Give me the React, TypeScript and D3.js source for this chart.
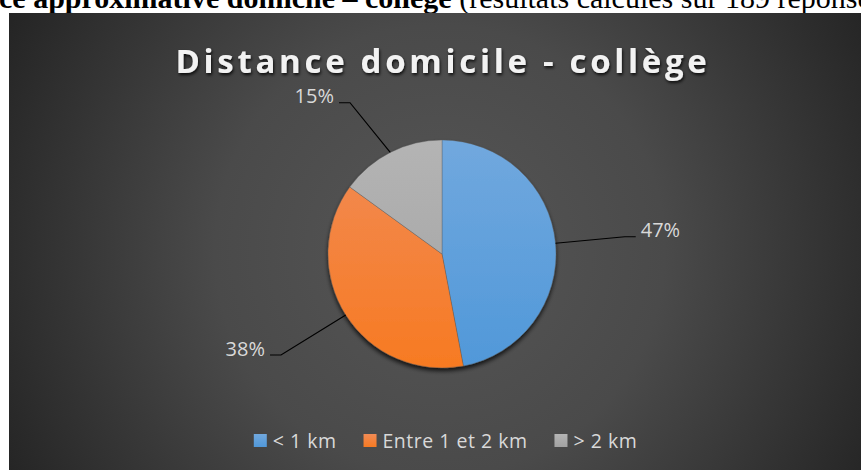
import React, { useEffect, useRef } from "react";
import * as d3 from "d3";

const categories = ["< 1 km", "Entre 1 et 2 km", "> 2 km"];
const values = [47, 38, 15];
const valueLabels = ["47%", "38%", "15%"];
const chartTitle = "Distance domicile - collège";
const headerBold = "ce approximative domicile – collège";
const headerNormal = " (résultats calculés sur 189 réponses)";

const W = 861;
const H = 470;
const colorsTop = ["#71a8de", "#f18b55", "#b4b4b4"];
const colorsBottom = ["#5098d9", "#f77a22", "#a2a2a2"];
// label layout: angle offset (deg) and radius factor for leader elbow
const labelAngleOffset = [0, 0.3, -4.3];
const labelRadiusFactor = [1.61, 1.667, 1.553];

export default function App() {
  const ref = useRef<SVGSVGElement>(null);

  useEffect(() => {
    const svg = d3.select(ref.current);
    svg.selectAll("*").remove();
    const defs = svg.append("defs");

    const bg = defs
      .append("radialGradient")
      .attr("id", "bgGrad")
      .attr("gradientUnits", "userSpaceOnUse")
      .attr("cx", 440)
      .attr("cy", 250)
      .attr("r", 500);
    bg.append("stop").attr("offset", 0).attr("stop-color", "#565656");
    bg.append("stop").attr("offset", 0.45).attr("stop-color", "#4a4a4a");
    bg.append("stop").attr("offset", 1).attr("stop-color", "#232323");

    colorsTop.forEach((c, i) => {
      const g = defs
        .append("linearGradient")
        .attr("id", "slice" + i)
        .attr("gradientUnits", "userSpaceOnUse")
        .attr("x1", 0)
        .attr("y1", -114)
        .attr("x2", 0)
        .attr("y2", 114);
      g.append("stop").attr("offset", 0).attr("stop-color", c);
      g.append("stop").attr("offset", 1).attr("stop-color", colorsBottom[i]);
      const lgd = defs.append("linearGradient").attr("id", "leg" + i).attr("x1", 0).attr("y1", 0).attr("x2", 0).attr("y2", 1);
      lgd.append("stop").attr("offset", 0).attr("stop-color", c);
      lgd.append("stop").attr("offset", 1).attr("stop-color", colorsBottom[i]);
    });

    const sh = defs.append("filter").attr("id", "pieShadow").attr("x", "-20%").attr("y", "-20%").attr("width", "140%").attr("height", "140%");
    sh.append("feDropShadow").attr("dx", 0).attr("dy", 3).attr("stdDeviation", 2).attr("flood-color", "#000").attr("flood-opacity", 0.75);

    const ts = defs.append("filter").attr("id", "titleShadow").attr("x", "-10%").attr("y", "-30%").attr("width", "120%").attr("height", "160%");
    ts.append("feDropShadow").attr("dx", 1).attr("dy", 2).attr("stdDeviation", 1.5).attr("flood-color", "#000").attr("flood-opacity", 0.8);

    // header text (page above chart, clipped at the top like the reference)
    const header = svg
      .append("text")
      .attr("x", -1)
      .attr("y", 7.5)
      .attr("font-family", "'Liberation Serif', 'Times New Roman', serif")
      .attr("font-size", 30)
      .attr("fill", "#000");
    header.append("tspan").attr("font-weight", "bold").text(headerBold);
    header.append("tspan").text(headerNormal);

    // chart area
    svg.append("rect").attr("x", 9).attr("y", 13).attr("width", W).attr("height", H).attr("fill", "url(#bgGrad)");

    // title
    svg
      .append("text")
      .attr("x", 443)
      .attr("y", 73)
      .attr("text-anchor", "middle")
      .attr("font-family", "'Open Sans', sans-serif")
      .attr("font-weight", 700)
      .attr("font-size", 33)
      .attr("letter-spacing", 3.7)
      .attr("fill", "#f2f2f2")
      .attr("filter", "url(#titleShadow)")
      .text(chartTitle);

    // pie
    const cx = 442;
    const cy = 254;
    const R = 114;
    const pie = d3.pie<number>().sort(null).value((d) => d);
    const arcs = pie(values);
    const arc = d3.arc<d3.PieArcDatum<number>>().innerRadius(0).outerRadius(R);

    const pg = svg.append("g").attr("transform", `translate(${cx},${cy})`);
    pg.append("g")
      .attr("filter", "url(#pieShadow)")
      .selectAll("path")
      .data(arcs)
      .join("path")
      .attr("d", (d) => arc(d) as string)
      .attr("fill", (_, i) => `url(#slice${i})`)
      .attr("stroke", "rgba(90,90,90,0.6)")
      .attr("stroke-width", 0.6);

    // leaders + labels
    arcs.forEach((d, i) => {
      const mid = (d.startAngle + d.endAngle) / 2;
      const p0: [number, number] = [cx + R * Math.sin(mid), cy - R * Math.cos(mid)];
      const la = mid + (labelAngleOffset[i] * Math.PI) / 180;
      const lr = R * labelRadiusFactor[i];
      const p1: [number, number] = [cx + lr * Math.sin(la), cy - lr * Math.cos(la)];
      const dir = Math.sin(la) >= 0 ? 1 : -1;
      const p2: [number, number] = [p1[0] + dir * 11, p1[1]];
      svg
        .append("path")
        .attr("d", d3.line()([p0, p1, p2]) as string)
        .attr("fill", "none")
        .attr("stroke", "#000")
        .attr("stroke-width", 1.2);
      svg
        .append("text")
        .attr("x", p2[0] + dir * 5)
        .attr("y", p2[1] + 0.6)
        .attr("text-anchor", dir > 0 ? "start" : "end")
        .attr("font-family", "'Open Sans', sans-serif")
        .attr("font-size", 20)
        .attr("fill", "#d9d9d9")
        .text(valueLabels[i]);
    });

    // legend
    const lg = svg.append("g");
    const items = categories.map((c, i) => {
      const g = lg.append("g");
      g.append("rect").attr("width", 13).attr("height", 13).attr("y", -13.5).attr("fill", `url(#leg${i})`);
      const t = g
        .append("text")
        .attr("x", 19)
        .attr("font-family", "'Open Sans', sans-serif")
        .attr("font-size", 19.5)
        .attr("letter-spacing", 0.5)
        .attr("fill", "#d9d9d9")
        .text(c);
      const w = 19 + (t.node() as SVGTextElement).getComputedTextLength();
      return { g, w };
    });
    const gap = 27;
    const total = items.reduce((s, it) => s + it.w, 0) + gap * (items.length - 1);
    let x = 445.5 - total / 2;
    items.forEach((it) => {
      it.g.attr("transform", `translate(${x},447.5)`);
      x += it.w + gap;
    });
  }, []);

  return (
    <div style={{ position: "absolute", left: 0, top: 0, width: W, height: H, overflow: "hidden", background: "#fff" }}>
      <svg ref={ref} width={W} height={H} style={{ display: "block" }} />
    </div>
  );
}
